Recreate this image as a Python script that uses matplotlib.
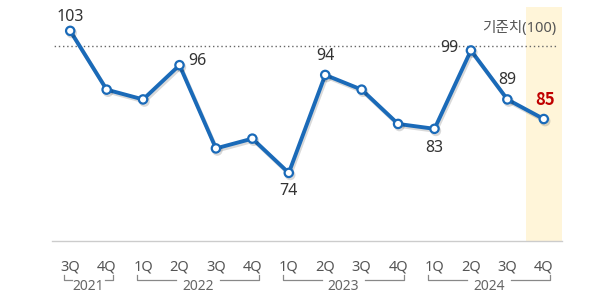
import matplotlib
matplotlib.use("Agg")
import matplotlib.pyplot as plt
import matplotlib.patheffects as pe

plt.rcParams['font.family'] = ['Noto Sans', 'Noto Sans CJK KR', 'DejaVu Sans']

# ----- Data -----
quarters = ['3Q', '4Q', '1Q', '2Q', '3Q', '4Q', '1Q', '2Q', '3Q', '4Q', '1Q', '2Q', '3Q', '4Q']
years = ['2021', '2022', '2023', '2024']
year_spans = [(0, 1), (2, 5), (6, 9), (10, 13)]  # first/last quarter index per year
values = [103, 91, 89, 96, 79, 81, 74, 94, 91, 84, 83, 99, 89, 85]
labelled = [0, 3, 6, 7, 10, 11, 12, 13]
baseline = 100
baseline_label = '기준치(100)'

# label placement: (dx pt, dy pt, ha)
label_pos = {0: (0, 10, 'center'), 3: (6, 3, 'left'), 6: (0, -13, 'center'),
             7: (0, 14, 'center'), 10: (0, -14, 'center'), 11: (-9, 2, 'right'),
             12: (0, 14, 'center'), 13: (1, 14, 'center')}

blue = '#1a6ab8'
x = list(range(len(values)))

fig = plt.figure(figsize=(6, 3), dpi=100)
ax = fig.add_axes([52 / 600, 59 / 300, 510 / 600, 241 / 300])
ax.set_xlim(-0.5, 13.5)
ax.set_ylim(60.1, 109.3)

# highlight latest quarter
ax.axvspan(12.5, 13.5, ymin=0, ymax=0.97, color='#fff5d9', zorder=0, lw=0)

# baseline
ax.hlines(baseline, -0.55, 13.33, colors='#666666', linestyles=(0, (1, 2)), lw=1, zorder=1)
ax.annotate(baseline_label, (13.33, baseline), xytext=(0, 12), textcoords='offset points',
            ha='right', va='center', fontsize=10.5, color='#555555')

# main line
ax.plot(x, values, color=blue, lw=2.8, marker='o', ms=6, mfc='white', mec=blue, mew=1.6,
        zorder=3, solid_joinstyle='round',
        path_effects=[pe.SimpleLineShadow(offset=(1, -1.5), alpha=0.15), pe.Normal()])

for i in labelled:
    dx, dy, ha = label_pos[i]
    if i == len(values) - 1:
        # latest value in bold red
        ax.annotate(str(values[i]), (i, values[i]), xytext=(dx, dy), textcoords='offset points',
                    ha=ha, va='center', fontsize=12, color='#c00000', fontweight='bold',
                    family=['Noto Sans CJK KR', 'DejaVu Sans'])
    else:
        ax.annotate(str(values[i]), (i, values[i]), xytext=(dx, dy), textcoords='offset points',
                    ha=ha, va='center', fontsize=11.5, color='#333333')

# axes styling
for s in ['top', 'right', 'left']:
    ax.spines[s].set_visible(False)
ax.spines['bottom'].set_color('#cccccc')
ax.spines['bottom'].set_linewidth(1)
ax.set_yticks([])
ax.set_xticks([])

# quarter labels, year brackets
trans = ax.get_xaxis_transform()
for i, q in enumerate(quarters):
    ax.text(i, -0.108, q, transform=trans, ha='center', va='center',
            fontsize=10.5, color='#555555')

y_top, y_line, y_year = -0.14, -0.162, -0.19
for yr, (a, b) in zip(years, year_spans):
    left, right = a - 0.17, b + 0.17
    mid = (a + b) / 2
    gap = 0.6 if b - a > 1 else 0.45
    kw = dict(transform=trans, color='#888888', lw=0.9, clip_on=False)
    ax.plot([left, left, mid - gap], [y_top, y_line, y_line], **kw)
    ax.plot([mid + gap, right, right], [y_line, y_line, y_top], **kw)
    ax.text(mid, y_year, yr, transform=trans, ha='center', va='center',
            fontsize=10, color='#666666')

fig.savefig('out.png', dpi=100)
